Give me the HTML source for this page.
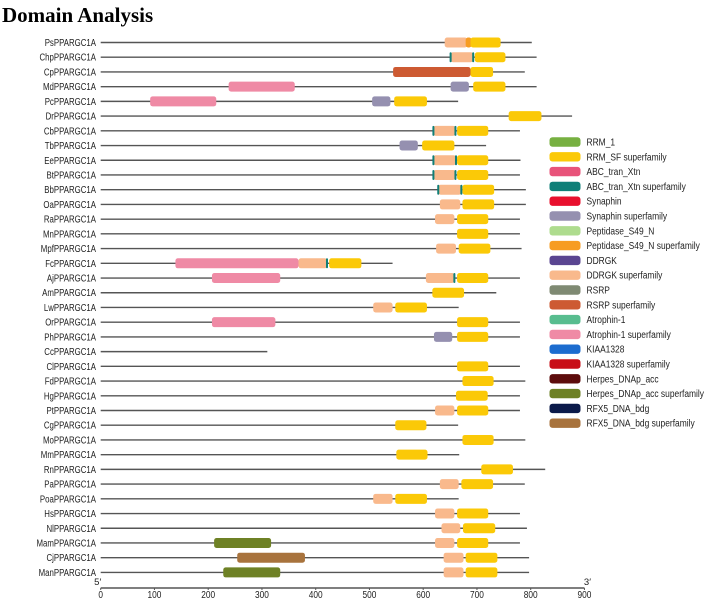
<!DOCTYPE html>
<html><head><meta charset="utf-8"><style>
body{margin:0;background:#fff;width:709px;height:600px;overflow:hidden}
svg{display:block}
</style></head><body>
<svg id="chart" width="709" height="600" xmlns="http://www.w3.org/2000/svg">
<text x="2" y="22" font-family="Liberation Serif, serif" font-weight="bold" font-size="21" fill="#000">Domain Analysis</text>
<g id="rows"></g><g id="axis"></g><g id="legend"></g>
</svg>
<script>
const proteins=["PsPPARGC1A","ChpPPARGC1A","CpPPARGC1A","MdPPARGC1A","PcPPARGC1A","DrPPARGC1A","CbPPARGC1A","TbPPARGC1A","EePPARGC1A","BtPPARGC1A","BbPPARGC1A","OaPPARGC1A","RaPPARGC1A","MnPPARGC1A","MpfPPARGC1A","FcPPARGC1A","AjPPARGC1A","AmPPARGC1A","LwPPARGC1A","OrPPARGC1A","PhPPARGC1A","CcPPARGC1A","ClPPARGC1A","FdPPARGC1A","HgPPARGC1A","PtPPARGC1A","CgPPARGC1A","MoPPARGC1A","MmPPARGC1A","RnPPARGC1A","PaPPARGC1A","PoaPPARGC1A","HsPPARGC1A","NlPPARGC1A","MamPPARGC1A","CjPPARGC1A","ManPPARGC1A"];
const lengths=[802,811,789,811,665,877,780,717,781,780,791,791,780,780,783,543,780,736,666,780,780,310,780,790,780,780,665,790,667,827,789,666,780,793,780,797,797];
const domains=[
[["DDRGK_sf",640,682],["PeptS49_sf",679,690],["RRM_SF",688,744]],
[["DDRGK_sf",651,693,"b"],["RRM_SF",696,753]],
[["RSRP_sf",544,688],["RRM_SF",688,730]],
[["Atrophin_sf",238,361],["Synaphin_sf",651,685],["RRM_SF",693,753]],
[["Atrophin_sf",92,215],["Synaphin_sf",505,539],["RRM_SF",546,607]],
[["RRM_SF",759,820]],
[["DDRGK_sf",619,660,"b"],["RRM_SF",663,721]],
[["Synaphin_sf",556,590],["RRM_SF",598,658]],
[["DDRGK_sf",619,661,"b"],["RRM_SF",663,721]],
[["DDRGK_sf",619,660,"b"],["RRM_SF",663,721]],
[["DDRGK_sf",628,671,"b"],["RRM_SF",673,732]],
[["DDRGK_sf",631,669],["RRM_SF",673,732]],
[["DDRGK_sf",622,658],["RRM_SF",663,721]],
[["RRM_SF",663,721]],
[["DDRGK_sf",624,661],["RRM_SF",666,725]],
[["Atrophin_sf",139,368],["DDRGK_sf",368,421,"r"],["RRM_SF",425,485]],
[["Atrophin_sf",207,334],["DDRGK_sf",605,658,"r"],["RRM_SF",663,721]],
[["RRM_SF",617,676]],
[["DDRGK_sf",507,543],["RRM_SF",548,607]],
[["Atrophin_sf",207,325],["RRM_SF",663,721]],
[["Synaphin_sf",620,654],["RRM_SF",663,721]],
[],
[["RRM_SF",663,721]],
[["RRM_SF",673,731]],
[["RRM_SF",661,720]],
[["DDRGK_sf",622,658],["RRM_SF",663,721]],
[["RRM_SF",548,606]],
[["RRM_SF",673,731]],
[["RRM_SF",550,608]],
[["RRM_SF",708,767]],
[["DDRGK_sf",631,666],["RRM_SF",671,730]],
[["DDRGK_sf",507,543],["RRM_SF",548,607]],
[["DDRGK_sf",622,658],["RRM_SF",663,721]],
[["DDRGK_sf",634,669],["RRM_SF",674,734]],
[["Herpes_sf",211,317],["DDRGK_sf",622,658],["RRM_SF",663,721]],
[["RFX5_sf",254,380],["DDRGK_sf",638,675],["RRM_SF",679,738]],
[["Herpes_sf",228,334],["DDRGK_sf",638,675],["RRM_SF",679,738]]
];
const ticks=[0,100,200,300,400,500,600,700,800,900];
const legendKeys=["RRM_1","RRM_SF","ABC","ABC_sf","Synaphin","Synaphin_sf","PeptS49","PeptS49_sf","DDRGK","DDRGK_sf","RSRP","RSRP_sf","Atrophin","Atrophin_sf","KIAA1328","KIAA1328_sf","Herpes","Herpes_sf","RFX5","RFX5_sf"];
const legendLabels=["RRM_1","RRM_SF superfamily","ABC_tran_Xtn","ABC_tran_Xtn superfamily","Synaphin","Synaphin superfamily","Peptidase_S49_N","Peptidase_S49_N superfamily","DDRGK","DDRGK superfamily","RSRP","RSRP superfamily","Atrophin-1","Atrophin-1 superfamily","KIAA1328","KIAA1328 superfamily","Herpes_DNAp_acc","Herpes_DNAp_acc superfamily","RFX5_DNA_bdg","RFX5_DNA_bdg superfamily"];
const colors={RRM_1:"#77b041",RRM_SF:"#fbc907",ABC:"#e8537a",ABC_sf:"#0f7f78",Synaphin:"#e8102e",Synaphin_sf:"#9590b0",PeptS49:"#aedc8e",PeptS49_sf:"#f79c22",DDRGK:"#5a4591",DDRGK_sf:"#f9b98c",RSRP:"#7f8a73",RSRP_sf:"#cd5a32",Atrophin:"#58bd8f",Atrophin_sf:"#ef8aa5",KIAA1328:"#1c6ccf",KIAA1328_sf:"#c80f17",Herpes:"#5d0c0c",Herpes_sf:"#6e8125",RFX5:"#0b1a4a",RFX5_sf:"#a8733d"};
const NS="http://www.w3.org/2000/svg";
const X0=100.7,KX=0.5375,Y0=42.5,DY=14.72;
function xs(v){return X0+v*KX}
function ys(i){return Y0+i*DY}
function mk(tag,attrs,parent){const e=document.createElementNS(NS,tag);for(const k in attrs)e.setAttribute(k,attrs[k]);parent.appendChild(e);return e}
function condense(t,f){const w=t.getComputedTextLength();t.setAttribute('textLength',(w*f).toFixed(1));t.setAttribute('lengthAdjust','spacingAndGlyphs');}
const rows=document.getElementById('rows');
proteins.forEach((p,i)=>{
  const y=ys(i);
  const g=mk('g',{},rows);
  
  
  const t=mk('text',{x:96,y:y+3.5,'text-anchor':'end','font-family':'Liberation Sans, sans-serif','font-size':'9.8',fill:'#222'},g);
  t.textContent=p;
  
  
  condense(t,0.8);
  const l=mk('line',{x1:xs(0),x2:xs(lengths[i]),y1:y,y2:y,stroke:'#555','stroke-width':1.4},g);
  
  
  domains[i].forEach(d=>{
    const r=mk('rect',{x:xs(d[1]),y:y-5,width:xs(d[2])-xs(d[1]),height:10,rx:2.5,fill:colors[d[0]]},g);
    
    
    if(d[3]){
      const sides=d[3]==="b"?[d[1],d[2]]:[d[2]];
      sides.forEach(s=>{
        const b=mk('rect',{x:xs(s)-1,y:y-5,width:2,height:10,rx:1,fill:colors.ABC_sf},g);
        
        
      });
    }
  });
});
const ax=document.getElementById('axis');
const AY=588;
const al=mk('line',{x1:xs(0),x2:xs(900),y1:AY,y2:AY,stroke:'#555','stroke-width':1.4},ax);


ticks.forEach(v=>{
  const tk=mk('line',{x1:xs(v),x2:xs(v),y1:AY,y2:AY+2,stroke:'#555'},ax);
  
  
  const tl=mk('text',{x:xs(v),y:AY+10,'text-anchor':'middle','font-family':'Liberation Sans, sans-serif','font-size':'9.8',fill:'#222'},ax);
  tl.textContent=v;
  
  
  condense(tl,0.85);
});
const f5=mk('text',{x:xs(0)-3,y:AY-3,'text-anchor':'middle','font-family':'Liberation Sans, sans-serif','font-size':'9.5',fill:'#222'},ax);
f5.textContent="5′";


const f3=mk('text',{x:xs(900)+3,y:AY-3,'text-anchor':'middle','font-family':'Liberation Sans, sans-serif','font-size':'9.5',fill:'#222'},ax);
f3.textContent="3′";


const lg=document.getElementById('legend');
legendKeys.forEach((k,i)=>{
  const y=142+i*14.8;
  const g=mk('g',{},lg);
  
  
  mk('rect',{x:549.5,y:y-4.7,width:31,height:9.4,rx:3,fill:colors[k]},g);
  const t=mk('text',{x:586.5,y:y+3.5,'font-family':'Liberation Sans, sans-serif','font-size':'9.8',fill:'#222'},g);
  t.textContent=legendLabels[i];
  condense(t,0.86);
});
</script>
</body></html>
